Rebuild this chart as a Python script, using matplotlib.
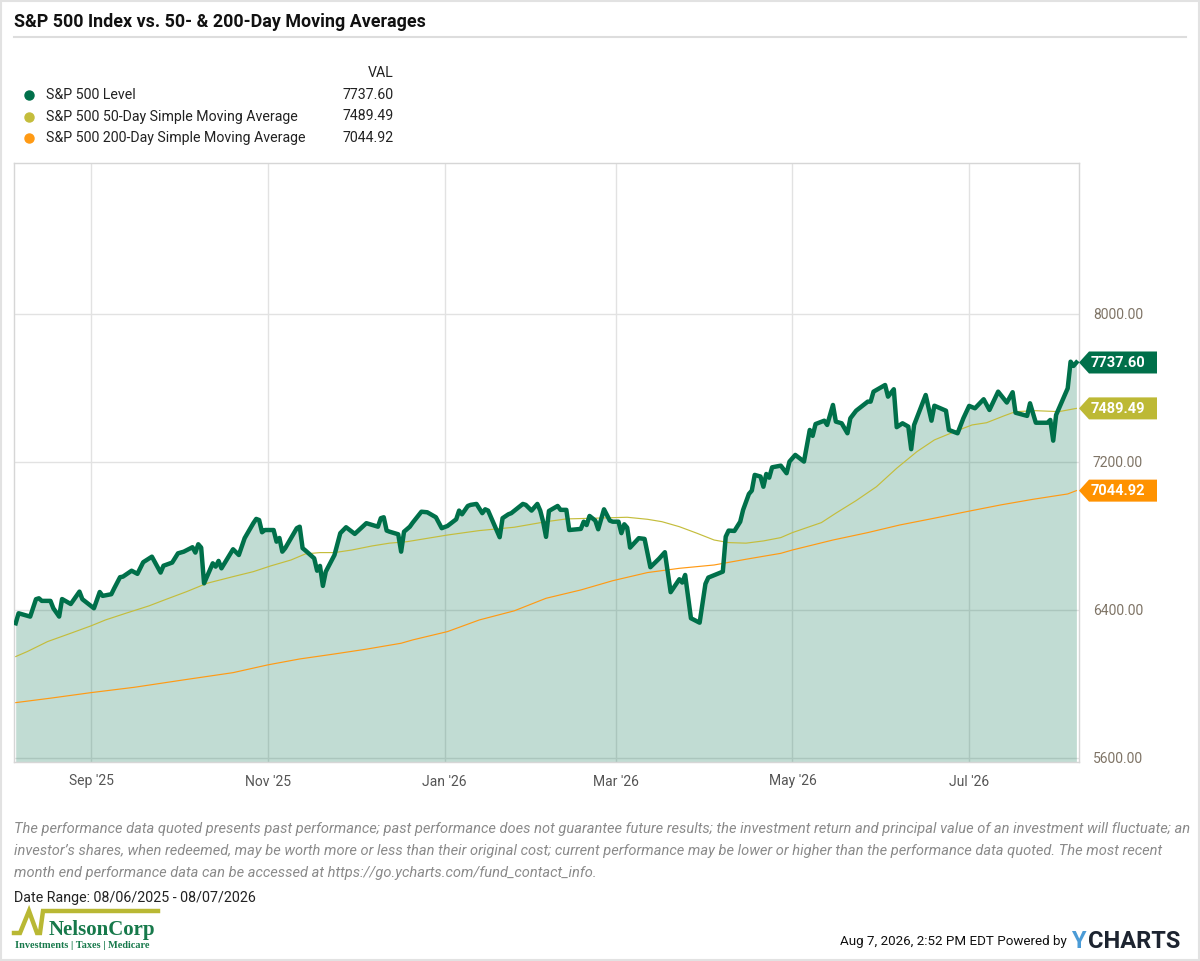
import pandas as pd
import matplotlib.pyplot as plt
import matplotlib.dates as mdates
from matplotlib.patches import Polygon, Rectangle
from matplotlib.lines import Line2D
from matplotlib.ticker import FuncFormatter
from matplotlib.transforms import ScaledTranslation

plt.rcParams['font.family'] = ['Roboto', 'DejaVu Sans']

# S&P 500 level
spx_dates = [
    "2025-08-06", "2025-08-07", "2025-08-09", "2025-08-11", "2025-08-13", "2025-08-14", "2025-08-15",
    "2025-08-18", "2025-08-19", "2025-08-21", "2025-08-22", "2025-08-25", "2025-08-28", "2025-08-29",
    "2025-09-02", "2025-09-04", "2025-09-05", "2025-09-08", "2025-09-09", "2025-09-11", "2025-09-12",
    "2025-09-15", "2025-09-17", "2025-09-19", "2025-09-22", "2025-09-25", "2025-09-26", "2025-09-29",
    "2025-10-01", "2025-10-03", "2025-10-06", "2025-10-07", "2025-10-08", "2025-10-09", "2025-10-10",
    "2025-10-13", "2025-10-14", "2025-10-15", "2025-10-16", "2025-10-20", "2025-10-22", "2025-10-24",
    "2025-10-27", "2025-10-28", "2025-10-29", "2025-10-30", "2025-10-31", "2025-11-03", "2025-11-04",
    "2025-11-05", "2025-11-06", "2025-11-07", "2025-11-11", "2025-11-12", "2025-11-13", "2025-11-14",
    "2025-11-17", "2025-11-18", "2025-11-19", "2025-11-20", "2025-11-21", "2025-11-24", "2025-11-26",
    "2025-11-28", "2025-12-01", "2025-12-05", "2025-12-09", "2025-12-10", "2025-12-11", "2025-12-12",
    "2025-12-13", "2025-12-16", "2025-12-17", "2025-12-18", "2025-12-20", "2025-12-21", "2025-12-24",
    "2025-12-26", "2025-12-29", "2025-12-31", "2026-01-02", "2026-01-05", "2026-01-06", "2026-01-07",
    "2026-01-09", "2026-01-10", "2026-01-12", "2026-01-14", "2026-01-15", "2026-01-16", "2026-01-20",
    "2026-01-21", "2026-01-23", "2026-01-24", "2026-01-28", "2026-01-29", "2026-01-31", "2026-02-02",
    "2026-02-03", "2026-02-04", "2026-02-05", "2026-02-06", "2026-02-09", "2026-02-10", "2026-02-12",
    "2026-02-13", "2026-02-17", "2026-02-18", "2026-02-19", "2026-02-20", "2026-02-22", "2026-02-23",
    "2026-02-25", "2026-02-27", "2026-02-28", "2026-03-02", "2026-03-03", "2026-03-04", "2026-03-05",
    "2026-03-06", "2026-03-09", "2026-03-11", "2026-03-13", "2026-03-16", "2026-03-18", "2026-03-20",
    "2026-03-23", "2026-03-24", "2026-03-25", "2026-03-27", "2026-03-30", "2026-04-01", "2026-04-02",
    "2026-04-07", "2026-04-08", "2026-04-09", "2026-04-11", "2026-04-13", "2026-04-14", "2026-04-16",
    "2026-04-17", "2026-04-18", "2026-04-20", "2026-04-21", "2026-04-22", "2026-04-23", "2026-04-24",
    "2026-04-27", "2026-04-29", "2026-04-30", "2026-05-02", "2026-05-05", "2026-05-07", "2026-05-08",
    "2026-05-09", "2026-05-12", "2026-05-13", "2026-05-15", "2026-05-16", "2026-05-18", "2026-05-20",
    "2026-05-21", "2026-05-23", "2026-05-27", "2026-05-28", "2026-05-29", "2026-06-02", "2026-06-03",
    "2026-06-05", "2026-06-06", "2026-06-08", "2026-06-10", "2026-06-11", "2026-06-12", "2026-06-16",
    "2026-06-18", "2026-06-19", "2026-06-23", "2026-06-24", "2026-06-27", "2026-06-29", "2026-07-01",
    "2026-07-03", "2026-07-06", "2026-07-08", "2026-07-11", "2026-07-14", "2026-07-16", "2026-07-17",
    "2026-07-21", "2026-07-22", "2026-07-24", "2026-07-28", "2026-07-29", "2026-07-30", "2026-07-31",
    "2026-08-04", "2026-08-05", "2026-08-06", "2026-08-07",
]
spx_vals = [
    6328, 6382, 6373, 6364, 6458, 6463, 6449,
    6449, 6409, 6364, 6459, 6432, 6499, 6458,
    6409, 6497, 6476, 6485, 6517, 6577, 6580,
    6612, 6595, 6658, 6688, 6602, 6639, 6656,
    6706, 6715, 6739, 6710, 6755, 6737, 6544,
    6652, 6634, 6665, 6625, 6728, 6697, 6788,
    6869, 6892, 6886, 6820, 6832, 6832, 6769,
    6789, 6715, 6734, 6842, 6850, 6734, 6721,
    6679, 6612, 6638, 6530, 6607, 6697, 6815,
    6847, 6811, 6869, 6850, 6896, 6901, 6829,
    6823, 6809, 6715, 6823, 6850, 6872, 6931,
    6928, 6901, 6842, 6854, 6890, 6937, 6917,
    6962, 6968, 6973, 6923, 6944, 6937, 6793,
    6896, 6917, 6923, 6973, 6968, 6937, 6973,
    6937, 6877, 6795, 6935, 6962, 6941, 6941,
    6832, 6838, 6877, 6859, 6908, 6883, 6836,
    6944, 6883, 6877, 6877, 6815, 6863, 6845,
    6737, 6788, 6784, 6631, 6677, 6712, 6496,
    6566, 6548, 6589, 6355, 6331, 6541, 6575,
    6607, 6796, 6829, 6827, 6877, 6941, 7027,
    7045, 7130, 7121, 7066, 7135, 7115, 7171,
    7180, 7139, 7202, 7238, 7202, 7373, 7341,
    7405, 7423, 7400, 7508, 7418, 7409, 7355,
    7436, 7477, 7526, 7526, 7580, 7616, 7553,
    7593, 7388, 7409, 7391, 7269, 7400, 7562,
    7423, 7504, 7477, 7373, 7355, 7436, 7503,
    7490, 7539, 7481, 7580, 7521, 7577, 7466,
    7449, 7517, 7412, 7412, 7427, 7315, 7454,
    7598, 7742, 7719, 7737.60,
]

sma50_dates = [
    "2025-08-06", "2025-08-10", "2025-08-17", "2025-08-25", "2025-09-01", "2025-09-06", "2025-09-13",
    "2025-09-21", "2025-09-27", "2025-10-04", "2025-10-11", "2025-10-20", "2025-10-27", "2025-11-02",
    "2025-11-09", "2025-11-14", "2025-11-19", "2025-11-24", "2025-11-30", "2025-12-07", "2025-12-13",
    "2025-12-19", "2026-01-02", "2026-01-13", "2026-01-25", "2026-02-05", "2026-02-12", "2026-02-22",
    "2026-03-05", "2026-03-12", "2026-03-17", "2026-03-23", "2026-03-29", "2026-04-04", "2026-04-09",
    "2026-04-15", "2026-04-21", "2026-04-27", "2026-05-01", "2026-05-11", "2026-05-16", "2026-05-23",
    "2026-05-30", "2026-06-06", "2026-06-13", "2026-06-19", "2026-06-26", "2026-07-02", "2026-07-07",
    "2026-07-13", "2026-07-17", "2026-07-24", "2026-08-01", "2026-08-07",
]
sma50_vals = [
    6148, 6175, 6229, 6274, 6314, 6346, 6382,
    6422, 6458, 6499, 6544, 6580, 6607, 6638,
    6670, 6703, 6710, 6710, 6724, 6746, 6761,
    6769, 6805, 6829, 6847, 6877, 6892, 6896,
    6901, 6890, 6877, 6850, 6815, 6778, 6764,
    6761, 6773, 6791, 6818, 6872, 6923, 6991,
    7066, 7166, 7256, 7319, 7364, 7400, 7412,
    7449, 7472, 7477, 7472, 7489.49,
]

sma200_dates = [
    "2025-08-06", "2025-08-18", "2025-09-01", "2025-09-16", "2025-10-03", "2025-10-20", "2025-11-01",
    "2025-11-12", "2025-11-24", "2025-12-05", "2025-12-17", "2025-12-21", "2026-01-02", "2026-01-13",
    "2026-01-25", "2026-02-05", "2026-02-17", "2026-02-28", "2026-03-12", "2026-03-23", "2026-04-04",
    "2026-04-15", "2026-04-27", "2026-05-01", "2026-05-15", "2026-05-27", "2026-06-07", "2026-06-19",
    "2026-06-30", "2026-07-12", "2026-07-23", "2026-08-04", "2026-08-07",
]
sma200_vals = [
    5899, 5923, 5953, 5982, 6022, 6061, 6103,
    6135, 6162, 6188, 6220, 6238, 6283, 6346,
    6395, 6463, 6508, 6558, 6602, 6625, 6643,
    6674, 6706, 6724, 6778, 6818, 6859, 6896,
    6931, 6968, 6998, 7027, 7044.92,
]

series_names = ["S&P 500 Level", "S&P 500 50-Day Simple Moving Average",
                "S&P 500 200-Day Simple Moving Average"]
last_vals = [spx_vals[-1], sma50_vals[-1], sma200_vals[-1]]
y_ticks = [5600, 6400, 7200, 8000]

GREEN = '#00704a'
OLIVE = '#c4bd3c'
ORANGE = '#ff9a14'
TAG_COLORS = ['#00704a', '#bdb935', '#ff9200']
colors = [GREEN, OLIVE, ORANGE]

W, H = 1200, 961
fig = plt.figure(figsize=(12, 9.61), dpi=100)


def fx(x):
    return x / W


def fy(y):
    return 1 - y / H


ax = fig.add_axes([fx(14), fy(762), fx(1079) - fx(14), fy(163) - fy(762)])

d_spx = pd.to_datetime(spx_dates)
d50 = pd.to_datetime(sma50_dates)
d200 = pd.to_datetime(sma200_dates)

ymin, ymax = 5578, 8816
ax.fill_between(d_spx, spx_vals, ymin, color=GREEN, alpha=0.245, lw=0, zorder=1)
ax.plot(d200, sma200_vals, color=ORANGE, lw=0.85, zorder=2)
ax.plot(d50, sma50_vals, color=OLIVE, lw=0.85, zorder=2)
ax.plot(d_spx, spx_vals, color=GREEN, lw=3.2, solid_joinstyle='round', zorder=3)

start = pd.Timestamp("2025-08-06")
ax.set_xlim(start - pd.Timedelta(hours=14), start + pd.Timedelta(days=366.9))
ax.set_ylim(ymin, ymax)

ax.xaxis.set_major_locator(mdates.MonthLocator(bymonth=[1, 3, 5, 7, 9, 11]))
ax.xaxis.set_major_formatter(mdates.DateFormatter("%b '%y"))
ax.set_yticks(y_ticks)
ax.yaxis.set_major_formatter(FuncFormatter(lambda v, p: f"{v:.2f}"))
ax.yaxis.tick_right()
ax.tick_params(axis='x', length=0, pad=9, labelsize=10, labelcolor='#555555')
ax.tick_params(axis='y', length=0, pad=10, labelsize=10, labelcolor='#7f7466')
for lab in ax.get_yticklabels():
    lab.set_horizontalalignment('left')

ax.grid(True, color='#e2e2e2', lw=1)
ax.set_axisbelow(True)
for sp in ax.spines.values():
    sp.set_color('#d6d6d6')
    sp.set_linewidth(1)

# value tags on the right edge
tag_shape = [(0, 0), (0.10, 0.11), (0.78, 0.11), (0.78, -0.11), (0.10, -0.11)]
for val, col in zip(last_vals, TAG_COLORS):
    trans = fig.dpi_scale_trans + ScaledTranslation(1.0, val, ax.get_yaxis_transform())
    fig.add_artist(Polygon(tag_shape, closed=True, transform=trans, facecolor=col,
                           edgecolor='none', zorder=5))
    fig.text(0.12, -0.005, f"{val:.2f}", transform=trans, ha='left', va='center',
             fontsize=10.5, fontweight='bold', color='white', zorder=6)

# title
fig.text(fx(14), fy(22), "S&P 500 Index vs. 50- & 200-Day Moving Averages",
         fontsize=12.9, fontweight='bold', color='#111111', va='center')
fig.add_artist(Line2D([fx(14), fx(1186)], [fy(37), fy(37)], color='#dddddd', lw=1.5,
                      transform=fig.transFigure))

# legend table
fig.text(fx(394), fy(73), "VAL", ha='right', va='center', fontsize=10.2, color='#222222')
for i, (name, val, col) in enumerate(zip(series_names, last_vals, colors)):
    yy = 95 + i * 21.5
    fig.add_artist(Line2D([fx(29)], [fy(yy)], marker='o', ms=6.5, color=col, lw=0,
                          transform=fig.transFigure))
    fig.text(fx(46), fy(yy), name, va='center', fontsize=10.2, color='#222222')
    fig.text(fx(394), fy(yy), f"{val:.2f}", ha='right', va='center', fontsize=10.2,
             color='#222222')

# disclaimer
disclaimer = [
    "The performance data quoted presents past performance; past performance does not guarantee future results; "
    "the investment return and principal value of an investment will fluctuate; an",
    "investor\u2019s shares, when redeemed, may be worth more or less than their original cost; current performance "
    "may be lower or higher than the performance data quoted. The most recent",
    "month end performance data can be accessed at https://go.ycharts.com/fund_contact_info.",
]
for i, line in enumerate(disclaimer):
    fig.text(fx(14), fy(829 + i * 22), line, va='center', fontsize=10.5, style='italic',
             color='#8a8a8a')

fig.text(fx(14), fy(898), "Date Range: 08/06/2025 - 08/07/2026", va='center', fontsize=10.25,
         color='#222222')

# NelsonCorp logo
logo_x = [14, 20, 29, 37, 40, 43, 158]
logo_y = [933, 933, 911, 933, 933, 911, 911]
fig.add_artist(Line2D([fx(v) for v in logo_x], [fy(v) for v in logo_y], color='#b9b834',
                      lw=3.2, solid_joinstyle='miter', transform=fig.transFigure))
fig.text(fx(49), fy(935), "NelsonCorp", va='baseline', fontsize=15, fontweight='bold',
         family='Liberation Serif', color='#17794b')
fig.text(fx(15), fy(945), "Investments | Taxes | Medicare", va='center', fontsize=7.4,
         fontweight='bold', family='Liberation Serif', color='#17794b')

# bottom right stamp
fig.text(fx(1067), fy(942), "Aug 7, 2026, 2:52 PM EDT Powered by", ha='right', va='center',
         fontsize=9.6, color='#111111')
fig.text(fx(1071), fy(942), "Y", ha='left', va='center', fontsize=17, fontweight='bold',
         color='#4b9bd6')
fig.text(fx(1088), fy(942), "CHARTS", ha='left', va='center', fontsize=17, fontweight='bold',
         color='#1d2430')

fig.add_artist(Rectangle((0.001, 0.001), 0.998, 0.998, transform=fig.transFigure, fill=False,
                         edgecolor='#e2e2e2', lw=1.5))

fig.savefig("out.png", dpi=100)
